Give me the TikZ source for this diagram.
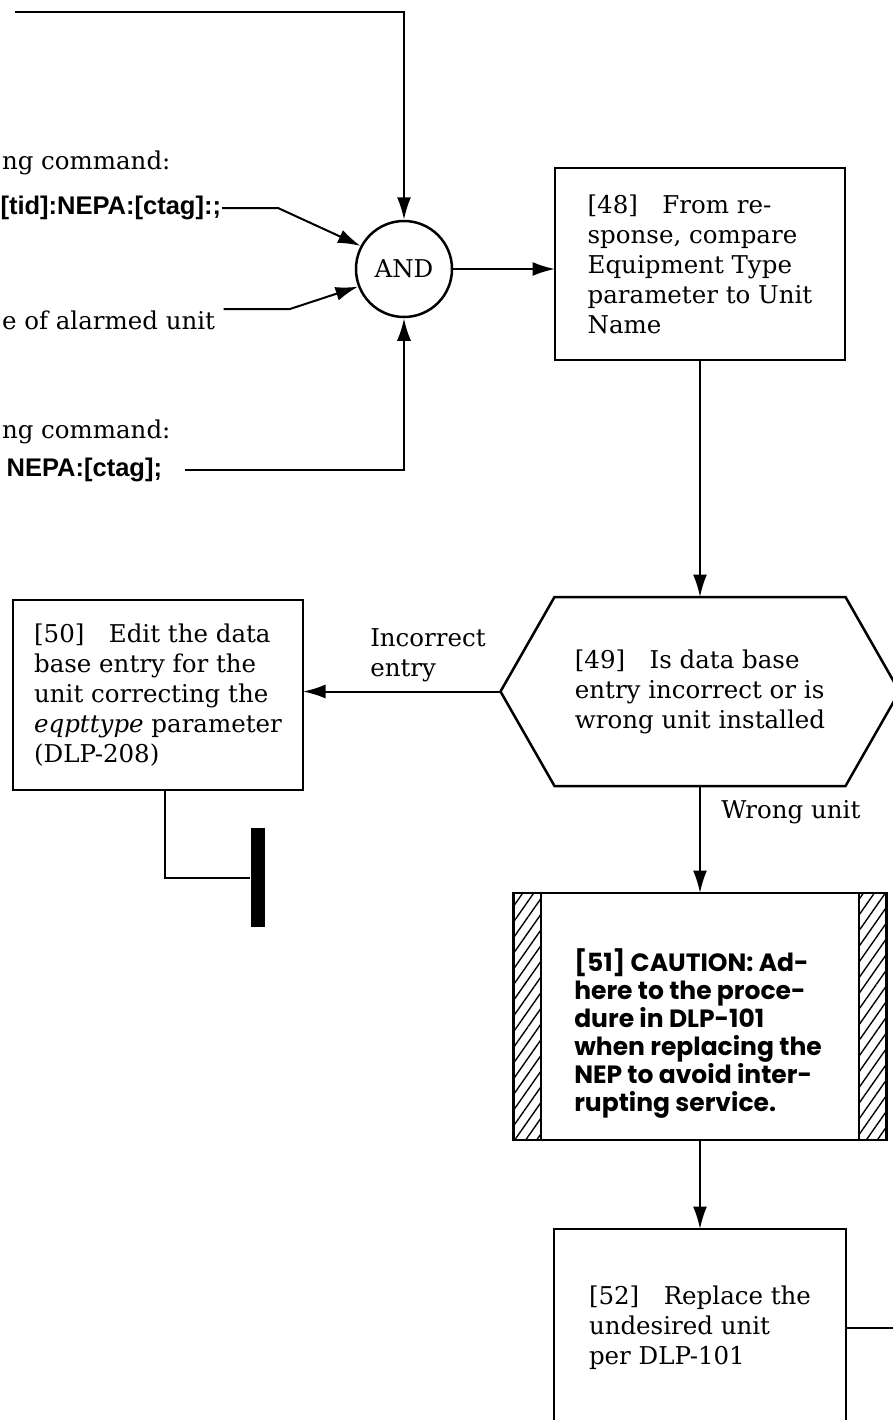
\documentclass[tikz,border=0pt]{standalone}
\usepackage{fontspec}
\setmainfont{DejaVu Serif}
\newfontfamily\cmdfont{Liberation Sans}
\newfontfamily\warnfont{Poppins}
\usetikzlibrary{arrows.meta,patterns.meta}

\begin{document}
\begin{tikzpicture}[x=0.4pt,y=0.4pt,yscale=-1,
  font=\fontsize{9.8}{12}\selectfont,
  line width=0.8pt,
  >={Latex[length=9pt,width=5.6pt]},
  procbox/.style={draw,line width=1pt,align=left,outer sep=0pt},
  cmdtext/.style={font=\cmdfont\bfseries\fontsize{10.2}{12}\selectfont,anchor=east,inner sep=0pt},
  hatch/.style={pattern={Lines[angle=55,distance=3.6pt,line width=0.55pt]}}]
\useasboundingbox (0,0) rectangle (893,1420);
\clip (0,0) rectangle (893,1420);

% inputs coming in from the left
\coordinate (feed) at (15,12);
\node[anchor=west,inner sep=0pt] (askA) at (1,163) {ng command:};
\node[cmdtext] (cmdA) at (222,208) {[tid]:NEPA:[ctag]:;};
\node[anchor=west,inner sep=0pt] (unitname) at (1,320) {e of alarmed unit};
\node[anchor=west,inner sep=0pt] (askB) at (1,432) {ng command:};
\node[cmdtext] (cmdB) at (163,470) {NEPA:[ctag];};
\coordinate (kinkA) at (278,208);
\coordinate (kinkB) at (290,309);

\node[draw,circle,line width=1pt,minimum size=38.4pt,inner sep=0pt] (and) at (404,269) {AND};

\draw[->] (feed) -| (and.north);
\draw[->] (cmdA.east) -- (kinkA) -- (and.152);
\draw[->] ([xshift=3pt]unitname.east |- kinkB) -- (kinkB) -- (and.201);
\draw[->] ([xshift=8.8pt]cmdB.east) -| (and.south);

% main column
\node[procbox,minimum width=116pt,minimum height=76.8pt] (b48) at (700,264)
  {[48]\quad From re-\\sponse, compare\\Equipment Type\\parameter to Unit\\Name};
\draw[->] (and.east) -- (and.east -| b48.west);

\node[align=left,outer sep=0pt,minimum width=159.6pt,minimum height=75.6pt] (q49) at (700,691.5)
  {[49]\quad Is data base\\entry incorrect or is\\wrong unit installed};
\draw[line width=1pt] ([xshift=21.6pt]q49.north west) -- ([xshift=-21.6pt]q49.north east)
  -- (q49.east) -- ([xshift=-21.6pt]q49.south east) -- ([xshift=21.6pt]q49.south west)
  -- (q49.west) -- cycle;
\draw[->] (b48.south) -- (q49.north);

\node[procbox,minimum width=116pt,minimum height=76pt] (b50) at (158,695)
  {[50]\quad Edit the data\\base entry for the\\unit correcting the\\\emph{eqpttype} parameter\\(DLP-208)};
\draw[->] (q49.west) -- (q49.west -| b50.east);
\node[align=left] (lblinc) at (428,655) {Incorrect\\entry};

\node[fill=black,minimum width=5.6pt,minimum height=39.6pt,inner sep=0pt] (stop) at (258,877.5) {};
\draw ([xshift=2.8pt]b50.south) |- (stop.west);

% caution box with hatched side bands
\node[procbox,minimum width=149.2pt,minimum height=98.8pt] (caut) at (700,1016.5) {};
\node[align=left,font=\warnfont\bfseries\fontsize{10}{11.2}\selectfont] (cauttxt) at (698,1034)
  {[51] CAUTION: Ad-\\here to the proce-\\dure in DLP-101\\when replacing the\\NEP to avoid inter-\\rupting service.};
\path[hatch] (caut.north west) rectangle ([xshift=11pt]caut.south west);
\path[hatch] ([xshift=-11pt]caut.north east) rectangle (caut.south east);
\draw[line width=1pt] ([xshift=11pt]caut.north west) -- ([xshift=11pt]caut.south west);
\draw[line width=1pt] ([xshift=-11pt]caut.north east) -- ([xshift=-11pt]caut.south east);
\draw[->] (q49.south) -- (caut.north);
\node[anchor=west] (lblwrong) at (712,812) {Wrong unit};

\node[procbox,minimum width=116.8pt,minimum height=79.2pt] (b52) at (700,1328)
  {[52]\quad Replace the\\undesired unit\\per DLP-101};
\draw[->] (caut.south) -- (b52.north);
\coordinate (exit) at (893,1328);
\draw (b52.east) -- (exit);
\end{tikzpicture}
\end{document}
